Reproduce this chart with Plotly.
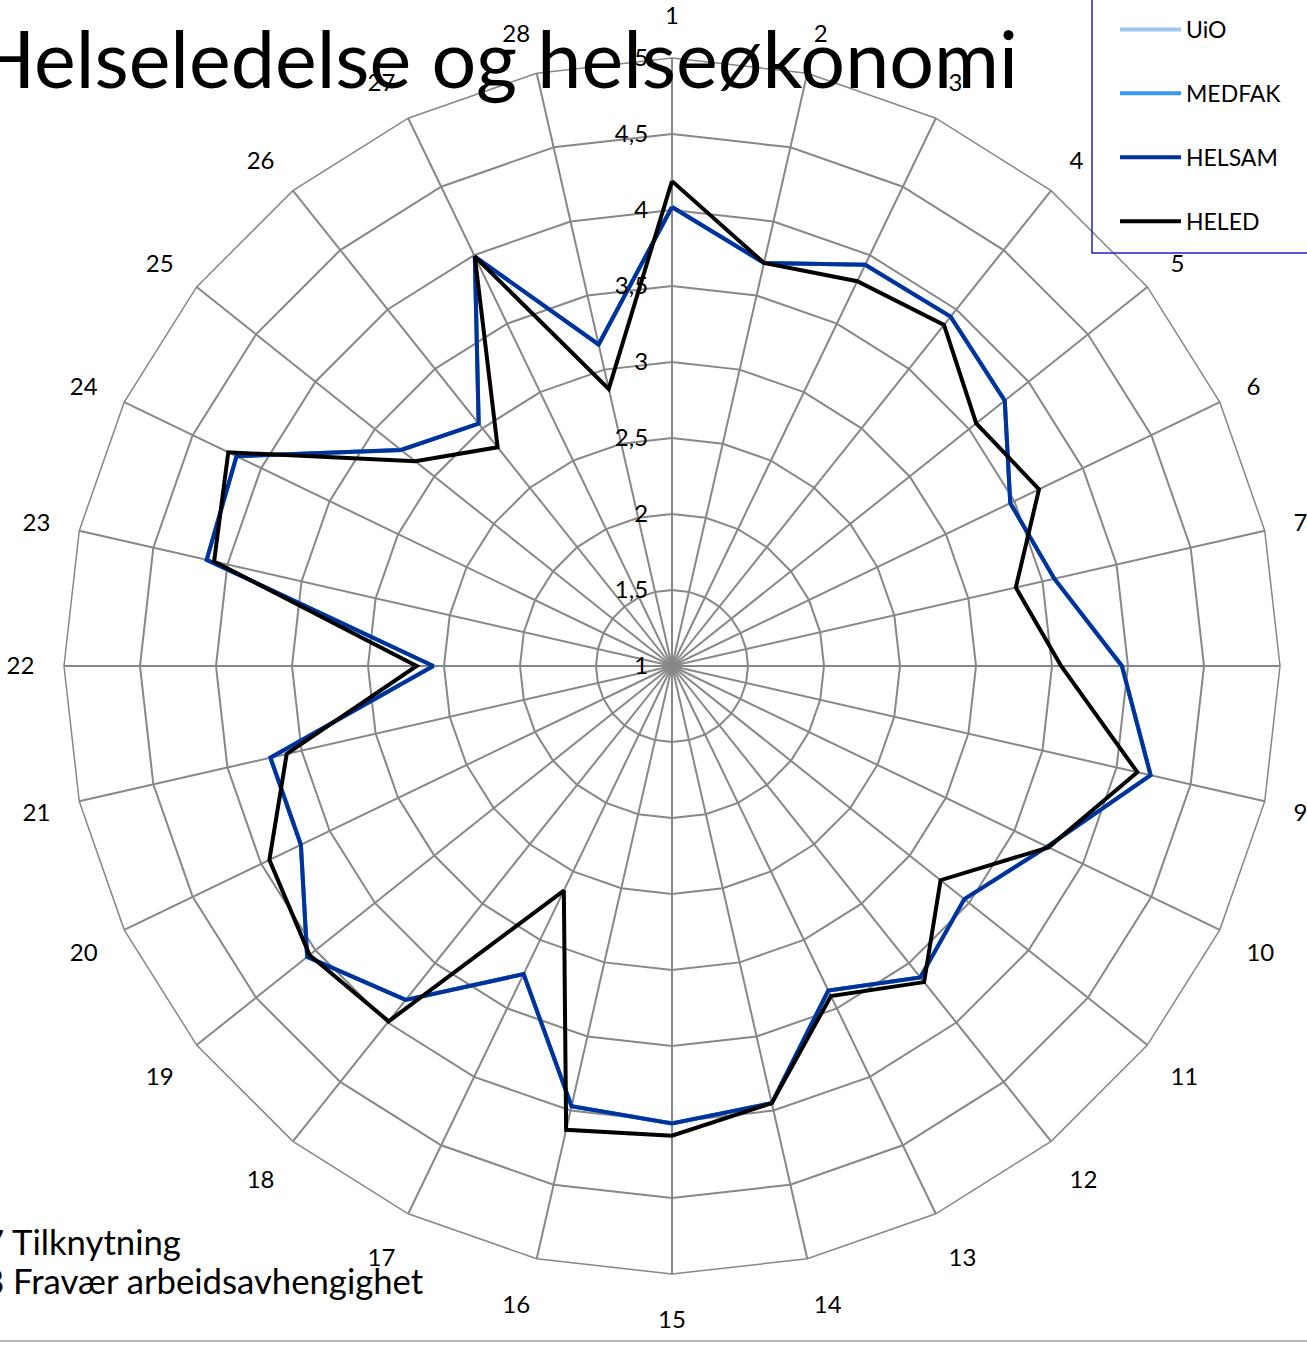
import plotly.graph_objects as go

categories = [str(i) for i in range(1, 29)]

helsam = [4.02, 3.72, 3.93, 3.94, 3.80, 3.47, 3.58, 3.96, 4.23, 3.74,
          3.46, 3.62, 3.37, 3.95, 4.01, 3.97, 3.25, 3.81, 4.07, 3.71,
          3.71, 2.57, 4.14, 4.18, 3.28, 3.04, 3.99, 3.17]
heled = [4.19, 3.72, 3.81, 3.87, 3.56, 3.68, 3.32, 3.56, 4.14, 3.75,
         3.26, 3.66, 3.41, 3.95, 4.09, 4.13, 2.64, 3.99, 4.05, 3.94,
         3.60, 2.68, 4.09, 4.24, 3.16, 2.84, 3.99, 2.87]
# UiO and MEDFAK lie exactly underneath HELSAM in the picture
uio = list(helsam)
medfak = list(helsam)

radial_ticks = [1, 1.5, 2, 2.5, 3, 3.5, 4, 4.5, 5]
radial_ticktext = ["1", "1,5", "2", "2,5", "3", "3,5", "4", "4,5", "5"]

series = [
    ("UiO", uio, "#9DC8F2"),
    ("MEDFAK", medfak, "#3C98EE"),
    ("HELSAM", helsam, "#003399"),
    ("HELED", heled, "#000000"),
]

FONT = "Lato"
W, H = 1307, 1347
cx, cy, R = 672, 666, 608

fig = go.Figure()
for i, (name, vals, col) in enumerate(series):
    fig.add_trace(go.Scatterpolar(
        r=vals + vals[:1],
        theta=categories + categories[:1],
        mode="lines",
        name=name,
        legendgroup=name,
        line=dict(color=col, width=4),
        hoverinfo="skip",
    ))

grid_col = "#878787"
fig.update_layout(
    width=W, height=H,
    margin=dict(l=0, r=0, t=0, b=0),
    paper_bgcolor="white",
    plot_bgcolor="white",
    font=dict(family=FONT, color="#000000"),
    polar=dict(
        domain=dict(x=[(cx - R) / W, (cx + R) / W],
                    y=[(H - cy - R) / H, (H - cy + R) / H]),
        gridshape="linear",
        bgcolor="white",
        angularaxis=dict(
            type="category",
            categoryorder="array",
            categoryarray=categories,
            direction="clockwise",
            rotation=90,
            showline=True,
            linecolor=grid_col,
            linewidth=1.5,
            showgrid=True,
            gridcolor=grid_col,
            gridwidth=1.5,
            ticks="outside",
            ticklen=24,
            tickcolor="rgba(0,0,0,0)",
            tickfont=dict(family=FONT, size=24, color="#000000"),
        ),
        radialaxis=dict(
            range=[1, 5],
            angle=90,
            tickangle=90,
            side="counterclockwise",
            tickvals=radial_ticks,
            ticktext=radial_ticktext,
            showline=False,
            showgrid=True,
            gridcolor=grid_col,
            gridwidth=1.5,
            ticks="outside",
            ticklen=15,
            tickcolor="rgba(0,0,0,0)",
            tickfont=dict(family=FONT, size=24, color="#000000"),
        ),
    ),
    showlegend=True,
    legend=dict(
        x=1115 / W, xanchor="left",
        y=(H - 243) / H, yanchor="bottom",
        bgcolor="rgba(0,0,0,0)",
        borderwidth=0,
        font=dict(family=FONT, size=23, color="#000000"),
        traceorder="grouped",
        tracegroupgap=31,
        itemwidth=61,
    ),
    annotations=[
        dict(text="Helseledelse og helseøkonomi", x=-27 / W, y=(H - 57) / H,
             xref="paper", yref="paper", xanchor="left", yanchor="middle",
             showarrow=False, font=dict(family=FONT, size=79, color="#000000")),
        dict(text="27 Tilknytning", x=-38 / W, y=(H - 1241) / H,
             xref="paper", yref="paper", xanchor="left", yanchor="middle",
             showarrow=False, font=dict(family=FONT, size=34.7, color="#000000")),
        dict(text="28 Fravær arbeidsavhengighet", x=-38 / W, y=(H - 1280) / H,
             xref="paper", yref="paper", xanchor="left", yanchor="middle",
             showarrow=False, font=dict(family=FONT, size=34.7, color="#000000")),
    ],
    shapes=[
        dict(type="line", xref="paper", yref="paper", x0=0, x1=1,
             y0=(H - 1341) / H, y1=(H - 1341) / H,
             line=dict(color="#A0A0A0", width=1.5)),
        dict(type="rect", xref="paper", yref="paper", layer="above",
             x0=1092 / W, x1=1.05, y0=(H - 253) / H, y1=1.05,
             line=dict(color="#2222C0", width=1.5), fillcolor="rgba(0,0,0,0)"),
    ],
)

fig.write_html("out.html", config={"displayModeBar": False},
               post_script="document.body.style.margin='0px';")
